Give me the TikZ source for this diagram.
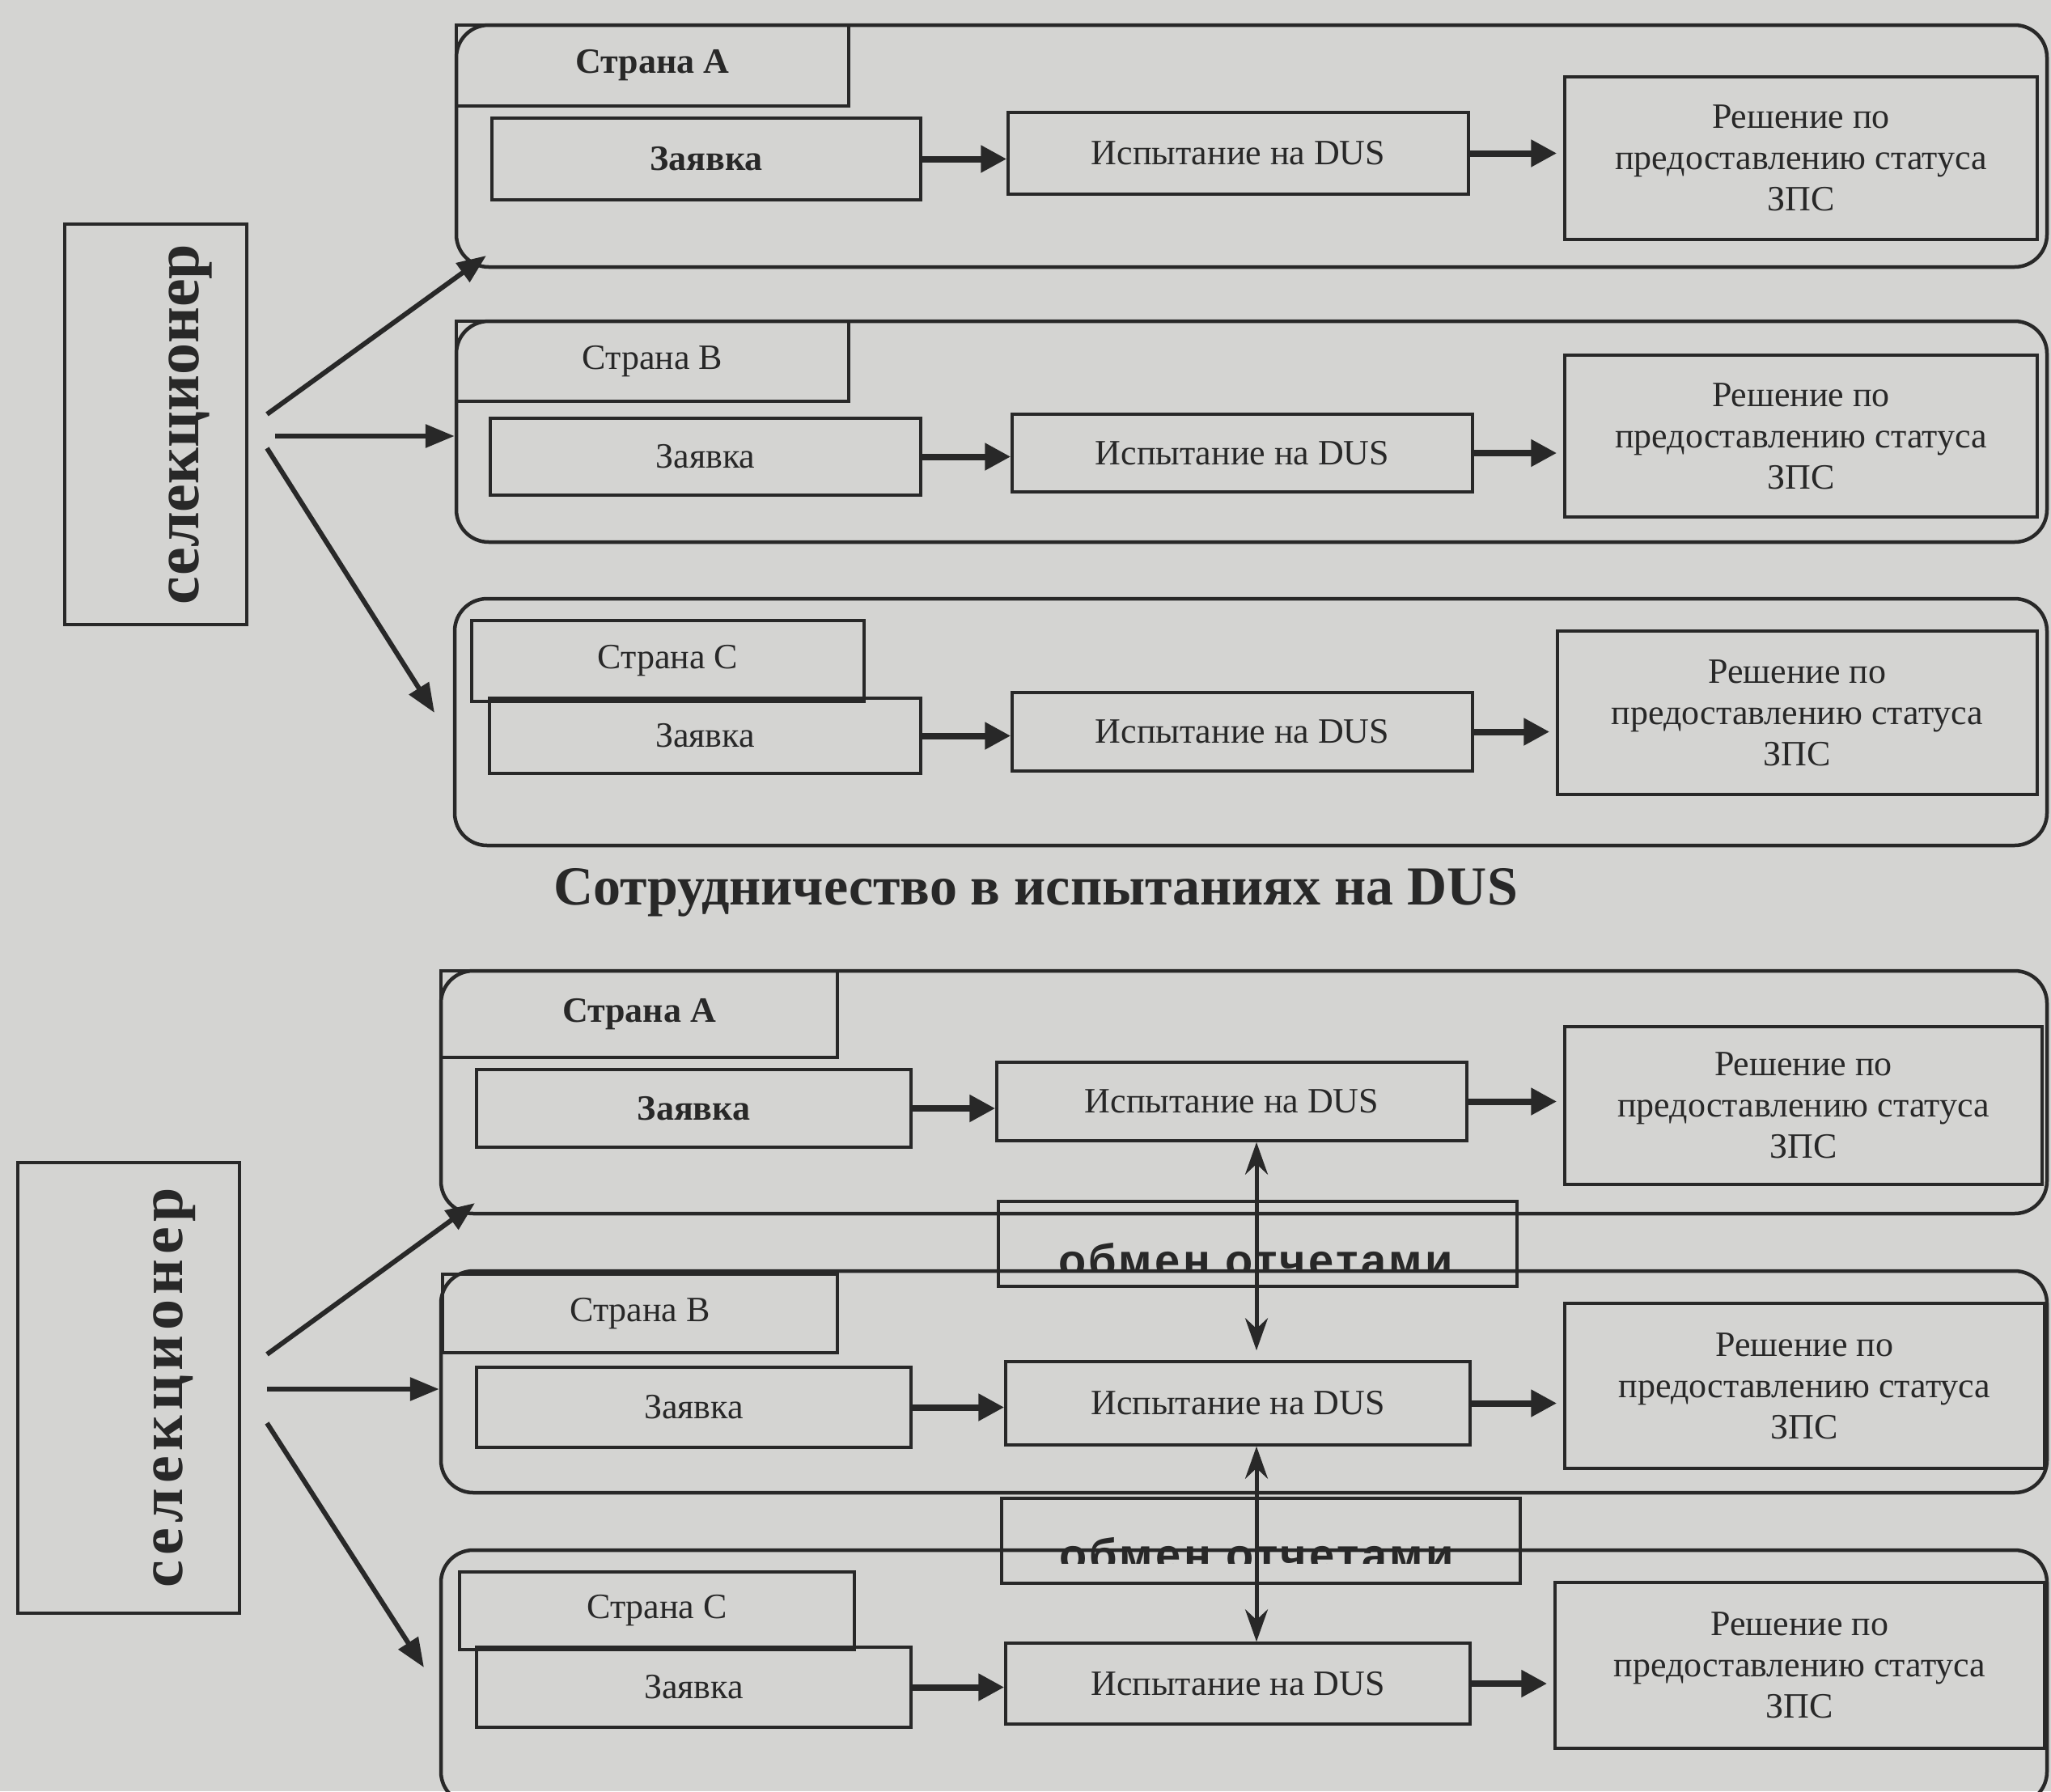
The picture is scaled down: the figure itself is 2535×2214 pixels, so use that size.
\documentclass[tikz,border=0pt]{standalone}
\usepackage{fontspec}
\setmainfont{Liberation Serif}
\setsansfont{Liberation Sans}
\usetikzlibrary{arrows.meta}
\definecolor{bgc}{RGB}{212,212,210}
\definecolor{ink}{RGB}{40,40,40}
\begin{document}
\begin{tikzpicture}[x=1pt,y=-1pt,
  box/.style={draw=ink, line width=3.5pt, inner sep=0pt, text=ink, font=\fontsize{44}{51}\selectfont, align=center},
  boldbox/.style={box, font=\bfseries\fontsize{44}{51}\selectfont},
  cont/.style={draw=ink, line width=4.5pt, rounded corners=40pt, inner sep=0pt},
  harr/.style={draw=ink, line width=8pt, -{Triangle[length=32pt,width=32pt]}},
  darr/.style={draw=ink, line width=6pt, -{Triangle[length=36pt,width=28pt]}},
  varr/.style={draw=ink, line width=5pt, {Stealth[length=40pt,width=28pt]}-{Stealth[length=40pt,width=28pt]}},
  selbox/.style={draw=ink, line width=3.5pt, inner sep=0pt},
  seltext/.style={text=ink, inner sep=0pt, rotate=90},
  obmtext/.style={text=ink, inner sep=0pt, anchor=base, font=\sffamily\bfseries\fontsize{56}{60}\selectfont\addfontfeature{LetterSpace=6}},
]
\useasboundingbox (0,0) rectangle (2535,2214);
\fill[bgc] (0,0) rectangle (2535,2214);
\clip (0,0) rectangle (2535,2214);

% ================= TOP SECTION =================
\node[cont, minimum width=1966pt, minimum height=299pt] (cA) at (1547,180.5) {};
\node[cont, minimum width=1966pt, minimum height=273pt] (cB) at (1547,533.5) {};
\node[cont, minimum width=1968pt, minimum height=305pt] (cC) at (1546,892.5) {};

\node[boldbox, minimum width=485pt, minimum height=100pt] (sA) at (806.5,81) {Страна A};
\node[box, minimum width=485pt, minimum height=99pt] (sB) at (806.5,446.5) {Страна B};
\node[box, minimum width=485pt, minimum height=100pt] (sC) at (825.5,817) {Страна C};

\node[boldbox, minimum width=530pt, minimum height=101pt] (zA) at (873,196.5) {Заявка};
\node[box, minimum width=532pt, minimum height=95pt] (zB) at (872,564.5) {Заявка};
\node[box, minimum width=533pt, minimum height=93pt] (zC) at (871.5,909.5) {Заявка};

\node[box, minimum width=569pt, minimum height=101pt] (iA) at (1530.5,189.5) {Испытание на DUS};
\node[box, minimum width=569pt, minimum height=96pt] (iB) at (1535.5,560) {Испытание на DUS};
\node[box, minimum width=569pt, minimum height=97pt] (iC) at (1535.5,904.5) {Испытание на DUS};

\node[box, minimum width=584pt, minimum height=201pt] (rA) at (2226,195.5) {Решение по\\предоставлению статуса\\ЗПС};
\node[box, minimum width=584pt, minimum height=200pt] (rB) at (2226,539) {Решение по\\предоставлению статуса\\ЗПС};
\node[box, minimum width=593pt, minimum height=202pt] (rC) at (2221.5,881) {Решение по\\предоставлению статуса\\ЗПС};

\draw[harr] (zA.east) -- (zA.east -| iA.west);
\draw[harr] (zB.east) -- (zB.east -| iB.west);
\draw[harr] (zC.east) -- (zC.east -| iC.west);
\draw[harr] (iA.east) -- ([xshift=-8pt]iA.east -| rA.west);
\draw[harr] (iB.east) -- ([xshift=-8pt]iB.east -| rB.west);
\draw[harr] (iC.east) -- ([xshift=-8pt]iC.east -| rC.west);

\node[selbox, minimum width=225pt, minimum height=495pt] (sel1) at (192.5,524.5) {};
\node[seltext, font=\bfseries\fontsize{78}{80}\selectfont] (sel1t) at (235,524.5) {селекционер};

\coordinate (s1a) at (330,512);
\coordinate (s1b) at (340,539);
\coordinate (s1c) at (330,554);
\coordinate (t1a) at (601,316);
\coordinate (t1c) at (537,881);
\draw[darr] (s1a) -- (t1a);
\draw[darr] (s1b) -- (s1b -| cB.west);
\draw[darr] (s1c) -- (t1c);

% title
\node[text=ink, anchor=base, inner sep=0pt, font=\bfseries\fontsize{68}{70}\selectfont] (title) at (1280,1118) {Сотрудничество в испытаниях на DUS};

% ================= BOTTOM SECTION =================
\node[cont, minimum width=1985pt, minimum height=300pt] (cA2) at (1537.5,1350) {};
\node[cont, minimum width=1985pt, minimum height=274pt] (cB2) at (1537.5,1708) {};
\node[cont, minimum width=1985pt, minimum height=314pt] (cC2) at (1537.5,2073) {};

\node[boldbox, minimum width=490pt, minimum height=107pt] (sA2) at (790,1253.5) {Страна A};
\node[box, minimum width=488pt, minimum height=97pt] (sB2) at (791,1623.5) {Страна B};
\node[box, minimum width=488pt, minimum height=96pt] (sC2) at (812,1991) {Страна C};

\node[boldbox, minimum width=537pt, minimum height=96pt] (zA2) at (857.5,1370) {Заявка};
\node[box, minimum width=537pt, minimum height=99pt] (zB2) at (857.5,1739.5) {Заявка};
\node[box, minimum width=537pt, minimum height=99pt] (zC2) at (857.5,2085.5) {Заявка};

\node[box, minimum width=581pt, minimum height=97pt] (iA2) at (1522.5,1361.5) {Испытание на DUS};
\node[box, minimum width=574pt, minimum height=103pt] (iB2) at (1530,1734.5) {Испытание на DUS};
\node[box, minimum width=574pt, minimum height=100pt] (iC2) at (1530,2081) {Испытание на DUS};

\node[box, minimum width=590pt, minimum height=195pt] (rA2) at (2229,1366.5) {Решение по\\предоставлению статуса\\ЗПС};
\node[box, minimum width=593pt, minimum height=204pt] (rB2) at (2230.5,1713) {Решение по\\предоставлению статуса\\ЗПС};
\node[box, minimum width=605pt, minimum height=205pt] (rC2) at (2224.5,2058.5) {Решение по\\предоставлению статуса\\ЗПС};

\draw[harr] (zA2.east) -- (zA2.east -| iA2.west);
\draw[harr] (zB2.east) -- (zB2.east -| iB2.west);
\draw[harr] (zC2.east) -- (zC2.east -| iC2.west);
\draw[harr] (iA2.east) -- ([xshift=-8pt]iA2.east -| rA2.west);
\draw[harr] (iB2.east) -- ([xshift=-8pt]iB2.east -| rB2.west);
\draw[harr] (iC2.east) -- ([xshift=-8pt]iC2.east -| rC2.west);

% exchange boxes
\node[box, minimum width=641pt, minimum height=105pt] (ob1) at (1554.5,1537.5) {};
\node[box, minimum width=641pt, minimum height=105pt] (ob2) at (1558.5,1904.5) {};
\begin{scope}
\clip (1234,1480) rectangle (1875,1568);
\node[obmtext] (ob1t) at (1552,1577) {обмен отчетами};
\end{scope}
\begin{scope}
\clip (1238,1850) rectangle (1879,1932);
\node[obmtext] (ob2t) at (1553,1941) {обмен отчетами};
\end{scope}

\coordinate (vx) at (1553,0);
\draw[varr, shorten >=12pt] (iA2.south -| vx) -- (iB2.north -| vx);
\draw[varr] (iB2.south -| vx) -- (iC2.north -| vx);

\node[selbox, minimum width=274pt, minimum height=557pt] (sel2) at (159,1715.5) {};
\node[seltext, font=\bfseries\fontsize{76}{80}\selectfont\addfontfeature{LetterSpace=8}] (sel2t) at (216,1715.5) {селекционер};

\coordinate (s2a) at (330,1674);
\coordinate (s2b) at (330,1717);
\coordinate (s2c) at (330,1759);
\coordinate (t2a) at (587,1487);
\coordinate (t2c) at (524,2061);
\draw[darr] (s2a) -- (t2a);
\draw[darr] (s2b) -- (s2b -| cB2.west);
\draw[darr] (s2c) -- (t2c);
\end{tikzpicture}
\end{document}
